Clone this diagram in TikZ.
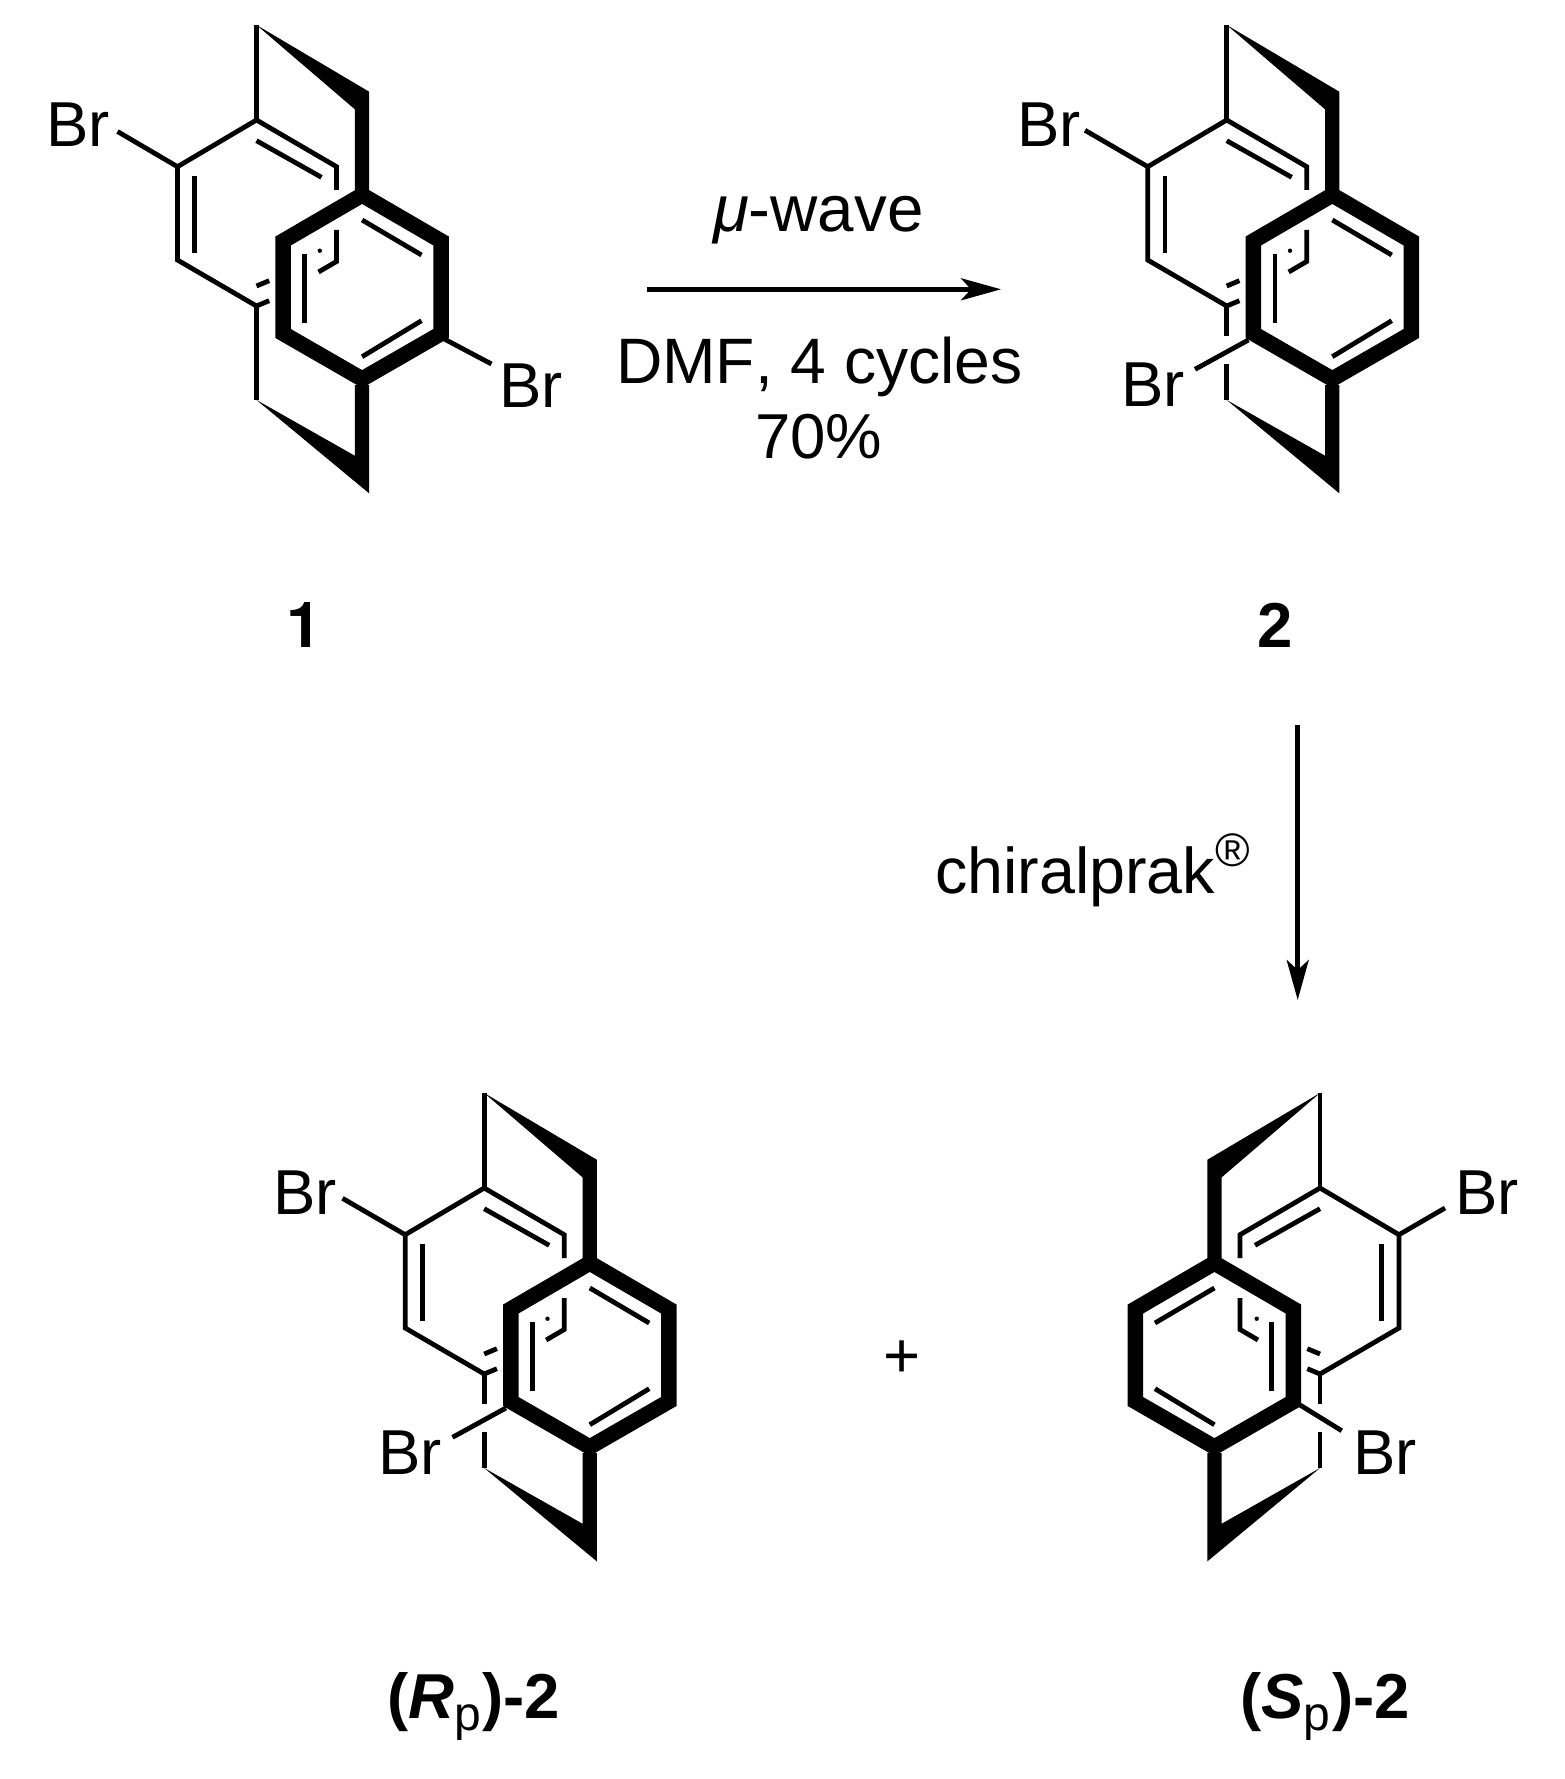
\documentclass[tikz,border=0pt]{standalone}
\usepackage{fontspec}
\setmainfont[Kerning=Off]{Liberation Sans}
\newfontfamily\herosfont{TeX Gyre Heros}
\usetikzlibrary{arrows.meta}
\tikzset{
  bond/.style={line width=4.8pt,line cap=butt,line join=miter},
  frontring/.style={line width=15.5pt,line join=miter,miter limit=10},
  wedgefill/.style={fill=black,draw=none},
  lbl/.style={inner sep=0pt,outer sep=0pt,anchor=base west,font=\fontsize{63.5}{70}\selectfont},
  boldlbl/.style={lbl,font=\fontsize{63.5}{70}\selectfont\bfseries},
  rxn/.style={line width=4.8pt,-{Stealth[length=40pt,width=22pt,inset=10pt]}}
}
\newcommand{\paracore}{%
  \fill[wedgefill] (0,25) -- (112.6,91.7) -- (112.6,191.7) -- (98.3,191.7) -- (98.3,109.3) -- cycle;
  \fill[wedgefill] (0,400) -- (98.3,455.7) -- (98.3,385) -- (112.6,385) -- (112.6,493.3) -- cycle;
  \draw[bond] (0,25) -- (0,120);
  \draw[bond] (80,190) -- (80,166.7) -- (0,120) -- (-79,166.7) -- (-79,260) -- (0,306);
  \draw[bond] (80,230) -- (80,261.5) -- (62,272);
  \draw[bond] (0,140.7) -- (65,177.3);
  \draw[bond] (-61.7,176) -- (-61.7,252.7);
  \draw[bond] (0,286) -- (12.7,280.7);
  \draw[bond] (0,306) -- (12.7,300.7);
  \fill (63.3,250.7) circle (2.2pt);
  \draw[frontring] (105.6,195) -- (184.6,241) -- (184.6,333.5) -- (105.6,379) -- (26.6,333.5) -- (26.6,241) -- cycle;
  \draw[bond] (105.6,220) -- (165,255);
  \draw[bond] (105.6,356.7) -- (165,320.7);
  \draw[bond] (48.3,254) -- (48.3,322.7);
}
\newcommand{\parabridge}{%
  \draw[bond] (0,306) -- (0,336);
  \draw[bond] (0,364) -- (0,400);
}
\begin{document}
\begin{tikzpicture}[x=1pt,y=-1pt]
\useasboundingbox (0,0) rectangle (1564,1779);
\fill[white] (0,0) rectangle (1564,1779);
% molecule 1
\begin{scope}[shift={(256.5,0)}]
  \paracore
  \draw[bond] (0,306) -- (0,400);
  \draw[bond] (-79,166.7) -- (-139,131.5);
  \draw[bond] (184,337) -- (235,364);
\end{scope}
\node[lbl] (br1a) at (46,146.7) {Br};
\node[lbl] (br1b) at (499,407) {Br};
\node[boldlbl,font=\fontsize{63.5}{70}\selectfont\herosfont\bfseries] (lab1) at (286,647.5) {1};
% molecule 2
\begin{scope}[shift={(1226.7,0)}]
  \paracore
  \parabridge
  \draw[bond] (-79,166.7) -- (-141.7,130.3);
  \draw[bond] (21.7,340) -- (-31.7,369.3);
\end{scope}
\node[lbl] (br2a) at (1017,146.7) {Br};
\node[lbl] (br2b) at (1121,406.7) {Br};
\node[boldlbl] (lab2) at (1257,647.5) {2};
% (Rp)-2
\begin{scope}[shift={(484.2,1068)}]
  \paracore
  \parabridge
  \draw[bond] (-79,166.7) -- (-141.7,130.3);
  \draw[bond] (21.7,340) -- (-31.7,369.3);
\end{scope}
\node[lbl] (br3a) at (273,1214.7) {Br};
\node[lbl] (br3b) at (378,1474.7) {Br};
\node[boldlbl] (lab3) at (387,1718) {(\textit{R}\raisebox{-12pt}{\fontsize{48}{48}\selectfont\mdseries p}\kern2pt)-2};
% (Sp)-2
\begin{scope}[shift={(1320,1068)},xscale=-1]
  \paracore
  \parabridge
  \draw[bond] (-79,166.7) -- (-125,140);
  \draw[bond] (20,337) -- (-21.7,362.7);
\end{scope}
\node[lbl] (br4a) at (1455.5,1214.7) {Br};
\node[lbl] (br4b) at (1353,1474.7) {Br};
\node[boldlbl] (lab4) at (1240,1718) {(\textit{S}\raisebox{-12pt}{\fontsize{48}{48}\selectfont\mdseries p}\kern2pt)-2};
\node[lbl] (plus) at (883,1377) {+};
% reaction 1
\coordinate (a1s) at (646.7,289.3);
\coordinate (a1e) at (1001,289.3);
\draw[rxn] (a1s) -- (a1e);
\node[lbl,font=\fontsize{65.5}{70}\selectfont] (mw) at (713,231.7) {\textit{μ}-wave};
\node[lbl,font=\fontsize{64.2}{70}\selectfont] (dmf) at (616,383) {DMF, 4 cycles};
\node[lbl] (yield) at (755,458) {70\%};
% reaction 2
\coordinate (a2s) at (1297.7,725);
\coordinate (a2e) at (1297.7,1000);
\draw[rxn] (a2s) -- (a2e);
\node[lbl,font=\fontsize{64.6}{70}\selectfont] (chiral) at (935,893) {chiralprak\raisebox{27pt}{\fontsize{47}{47}\selectfont ®}};
\end{tikzpicture}
\end{document}
